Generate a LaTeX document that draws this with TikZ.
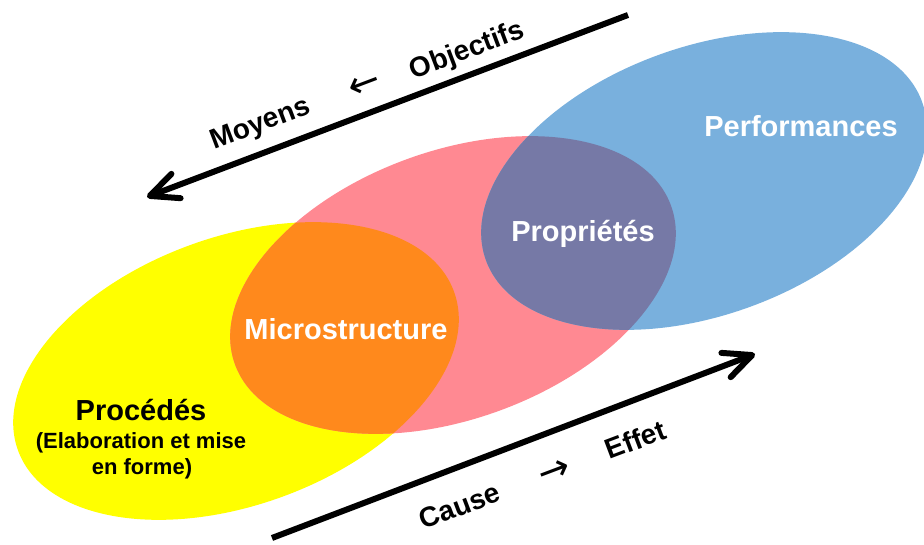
\documentclass[tikz,border=0pt]{standalone}
\usepackage{fontspec}
\setmainfont{Liberation Sans}
\newfontfamily\signfont{DejaVu Sans}
\usetikzlibrary{arrows.meta}

\definecolor{procyellow}{RGB}{255,255,0}
\definecolor{micropink}{RGB}{255,137,146}
\definecolor{microorange}{RGB}{255,137,28}
\definecolor{perfblue}{RGB}{121,176,221}
\definecolor{proppurple}{RGB}{118,121,166}

\begin{document}
\begin{tikzpicture}[x=1pt, y=1pt,
    oval/.style={x radius=232, y radius=134, rotate=20},
    bigtext/.style={font=\bfseries\fontsize{29}{34}\selectfont, anchor=base, inner sep=0pt},
    subtext/.style={font=\bfseries\fontsize{22}{26}\selectfont, anchor=base, inner sep=0pt},
    arrowtext/.style={font=\bfseries\fontsize{28}{33}\selectfont, anchor=base, inner sep=0pt, rotate=20.7},
    arrowsign/.style={font=\signfont\fontsize{38}{44}\selectfont, inner sep=0pt, rotate=20.7},
    bigarrow/.style={line width=6pt, -{Straight Barb[length=28pt, width=26pt, round]}}]

    \useasboundingbox (0,0) rectangle (924,545);

    \coordinate (yel) at (236,174);
    \coordinate (pink) at (453,260);
    \coordinate (blue) at (704,364);

    \fill[procyellow] (yel) circle[oval];
    \fill[micropink] (pink) circle[oval];
    \fill[perfblue] (blue) circle[oval];
    \begin{scope}
        \clip (pink) circle[oval];
        \fill[microorange] (yel) circle[oval];
        \fill[proppurple] (blue) circle[oval];
    \end{scope}

    \node[bigtext, text=white] (micro) at (346,205) {Microstructure};
    \node[bigtext, text=white] (prop) at (583,303) {Propriétés};
    \node[bigtext, text=white] (perf) at (801,408) {Performances};
    \node[bigtext] (proc) at (141,124) {Procédés};
    \node[subtext] (elab) at (141,96) {(Elaboration et mise};
    \node[subtext] (forme) at (142,70) {en forme)};

    \coordinate (topstart) at (628,530);
    \coordinate (toptip) at (147,348);
    \coordinate (botstart) at (272,7);
    \coordinate (bottip) at (755,191);
    \draw[bigarrow] (topstart) -- (toptip);
    \draw[bigarrow] (botstart) -- (bottip);

    \node[arrowtext] (moyens) at (263,414) {Moyens};
    \node[arrowsign] (leftsign) at (365,459) {←};
    \node[arrowtext] (objectifs) at (470,487) {Objectifs};
    \node[arrowtext] (cause) at (463,30) {Cause};
    \node[arrowsign] (rightsign) at (555,72) {→};
    \node[arrowtext] (effet) at (639,96) {Effet};
\end{tikzpicture}
\end{document}
